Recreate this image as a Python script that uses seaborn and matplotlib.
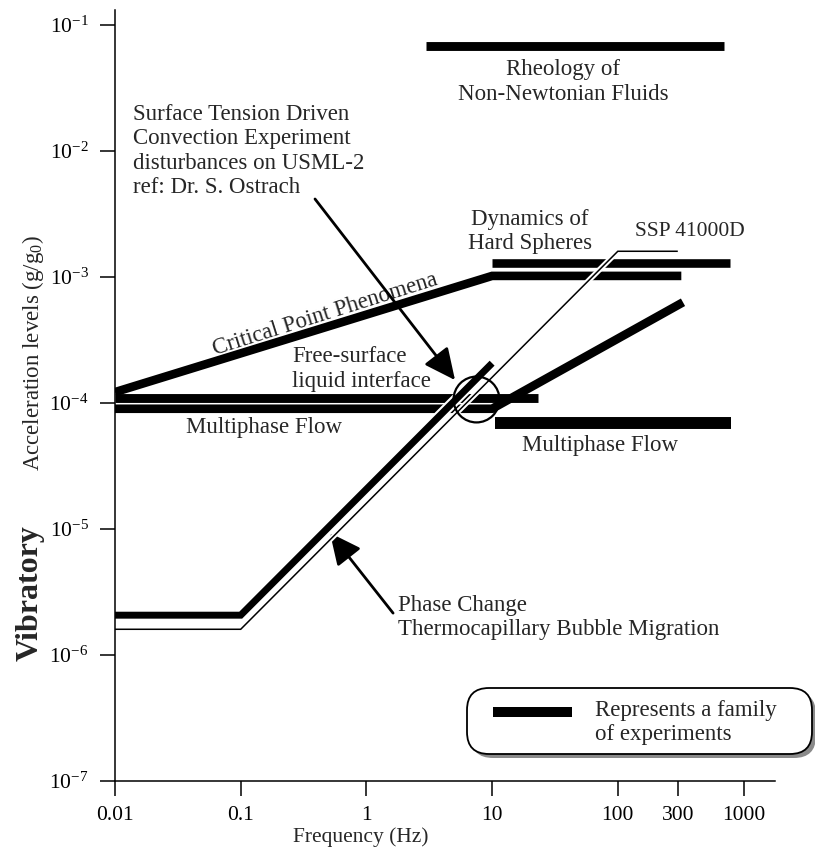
import matplotlib.pyplot as plt
import matplotlib.patheffects as pe
import seaborn as sns
from matplotlib.patches import FancyBboxPatch
from matplotlib.lines import Line2D

# experiment families (frequency in Hz, acceleration in g/g0)
rheology_hz = [3, 700]
rheology_g = [0.068, 0.068]
hard_spheres_hz = [10, 780]
hard_spheres_g = [1.28e-3, 1.28e-3]
critical_hz = [0.01, 10, 320]
critical_g = [1.22e-4, 1.02e-3, 1.02e-3]
free_surface_hz = [0.01, 23]
free_surface_g = [1.1e-4, 1.1e-4]
multiphase_low_hz = [0.01, 10, 330]
multiphase_low_g = [9e-5, 9e-5, 6.3e-4]
multiphase_high_hz = [10.5, 800]
multiphase_high_g = [6.9e-5, 6.9e-5]
phase_change_hz = [0.01, 0.1, 10]
phase_change_g = [2.07e-6, 2.07e-6, 2.07e-4]

# SSP 41000D requirement curve
ssp_hz = [0.01, 0.1, 100, 300]
ssp_g = [1.6e-6, 1.6e-6, 1.6e-3, 1.6e-3]

# circled disturbance on USML-2
usml_hz = [7.45]
usml_g = [1.08e-4]

x_ticks = [0.01, 0.1, 1, 10, 100, 300, 1000]
x_labels = ['0.01', '0.1', '1', '10', '100', '300', '1000']
y_ticks = [1e-7, 1e-6, 1e-5, 1e-4, 1e-3, 1e-2, 1e-1]
y_labels = [r'$\mathregular{10^{-%d}}$' % k for k in range(7, 0, -1)]

sns.set_theme(style='ticks')
plt.rcParams['font.family'] = ['Liberation Serif', 'DejaVu Serif']
plt.rcParams['mathtext.fontset'] = 'custom'
plt.rcParams['mathtext.rm'] = 'Liberation Serif'
plt.rcParams['mathtext.it'] = 'Liberation Serif:italic'

fig = plt.figure(figsize=(8.15, 8.51), dpi=100)
ax = fig.add_axes([115/815, 70/851, 660/815, 771/851])
ax.set_xscale('log')
ax.set_yscale('log')

bar = dict(ax=ax, color='black', sort=False, estimator=None,
           solid_capstyle='butt', solid_joinstyle='miter', zorder=2)
sns.lineplot(x=rheology_hz, y=rheology_g, linewidth=6.4, **bar)
sns.lineplot(x=hard_spheres_hz, y=hard_spheres_g, linewidth=6.2, **bar)
sns.lineplot(x=critical_hz, y=critical_g, linewidth=6.2, **bar)
sns.lineplot(x=free_surface_hz, y=free_surface_g, linewidth=6.4, **bar)
sns.lineplot(x=multiphase_low_hz, y=multiphase_low_g, linewidth=6.2, **bar)
sns.lineplot(x=multiphase_high_hz, y=multiphase_high_g, linewidth=8.6, **bar)

halo = lambda w: [pe.Stroke(linewidth=w, foreground='white'), pe.Normal()]
bar['zorder'] = 3
sns.lineplot(x=phase_change_hz, y=phase_change_g, linewidth=5.0,
             path_effects=halo(8), **bar)
bar['zorder'] = 4
sns.lineplot(x=ssp_hz, y=ssp_g, linewidth=1.1, path_effects=halo(4), **bar)

ax.plot(usml_hz, usml_g, marker='o', ms=33, mfc='none', mec='black',
        mew=1.6, ls='none', zorder=5)

# labels on the chart
fs = 16.5
ax.text(0.0139, 0.01, 'Surface Tension Driven\nConvection Experiment\n'
        'disturbances on USML-2\nref: Dr. S. Ostrach',
        ha='left', va='center', fontsize=fs)
ax.text(36.6, 0.0353, 'Rheology of\nNon-Newtonian Fluids',
        ha='center', va='center', fontsize=fs)
ax.text(20.0, 2.28e-3, 'Dynamics of\nHard Spheres',
        ha='center', va='center', fontsize=fs)
ax.text(375, 2.28e-3, 'SSP 41000D', ha='center', va='center', fontsize=15.5)
ax.text(0.256, 1.86e-4, 'Free-surface\nliquid interface',
        ha='left', va='center', fontsize=fs)
ax.text(0.1545, 6.34e-5, 'Multiphase Flow', ha='center', va='center', fontsize=fs)
ax.text(72.1, 4.64e-5, 'Multiphase Flow', ha='center', va='center', fontsize=fs)
ax.text(0.469, 5.08e-4, 'Critical Point Phenomena', rotation=17.5,
        ha='center', va='center', fontsize=fs)
ax.text(1.78, 1.99e-6, 'Phase Change\nThermocapillary Bubble Migration',
        ha='left', va='center', fontsize=fs)

arrow = dict(arrowstyle='-|>,head_length=0.8,head_width=0.38', lw=2,
             color='black', shrinkA=0, shrinkB=0, mutation_scale=24)
ax.annotate('', xy=(5.07, 1.52e-4), xytext=(0.39, 4.16e-3), arrowprops=arrow)
ax.annotate('', xy=(0.513, 9.3e-6), xytext=(1.63, 2.15e-6), arrowprops=arrow)

# axes
ax.set_xlim(0.01, 1780)
ax.set_ylim(1e-7, 0.1315)
ax.set_xticks(x_ticks)
ax.set_xticklabels(x_labels)
ax.set_yticks(y_ticks)
ax.set_yticklabels(y_labels)
ax.minorticks_off()
ax.tick_params(direction='out', length=11, width=1.1, color='black',
               labelsize=15.5, labelcolor='black')
ax.tick_params(axis='x', pad=7)
ax.tick_params(axis='y', pad=8)
sns.despine(ax=ax)
for side in ['left', 'bottom']:
    ax.spines[side].set_linewidth(1.1)
    ax.spines[side].set_color('black')
    ax.spines[side].set_zorder(6)

ax.set_xlabel('Frequency (Hz)', fontsize=15.5, va='center')
ax.xaxis.set_label_coords(0.3727, -0.0726)
ax.set_ylabel(r'Acceleration levels (g/g$\mathregular{_0}$)', fontsize=fs, va='center')
ax.yaxis.set_label_coords(-0.1242, 0.5545)
fig.text(30/815, 1 - 593/851, 'Vibratory', rotation=90, fontsize=23,
         fontweight='bold', ha='center', va='center')

# key box
shadow = FancyBboxPatch((4.71, 0.93), 3.45, 0.66,
                        boxstyle='round,pad=0,rounding_size=0.22',
                        transform=fig.dpi_scale_trans, fc='#8a8a8a', ec='none')
box = FancyBboxPatch((4.67, 0.97), 3.45, 0.66,
                     boxstyle='round,pad=0,rounding_size=0.22',
                     transform=fig.dpi_scale_trans, fc='white', ec='black', lw=1.3)
fig.add_artist(shadow)
fig.add_artist(box)
fig.add_artist(Line2D([4.93, 5.72], [1.39, 1.39], transform=fig.dpi_scale_trans,
                      color='black', lw=7.2, solid_capstyle='butt'))
fig.text(5.95, 1.285, 'Represents a family\nof experiments',
         transform=fig.dpi_scale_trans, ha='left', va='center', fontsize=fs)

fig.savefig('out.png', dpi=100)
